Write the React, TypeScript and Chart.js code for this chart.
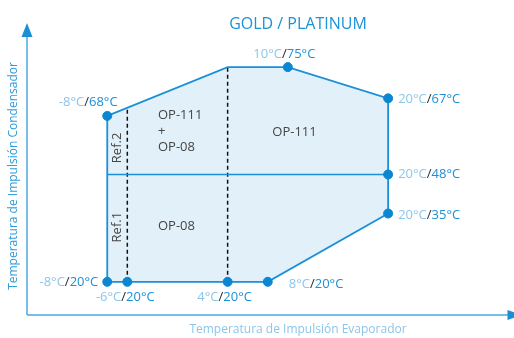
import React, { useEffect, useRef } from "react";
import { Chart, registerables } from "chart.js";

Chart.register(...registerables);

// Operating points: evaporator supply temperature (°C) and condenser supply temperature (°C)
const evapTemps = [-8, -6, 4, 8, 20, 20, 20, 10, -8];
const condTemps = [20, 20, 20, 20, 35, 48, 67, 75, 68];
// vertical placement of each point as read from the (schematic) diagram
const condLevels = [20, 20, 20, 20, 37.5, 47.5, 67, 75, 62.5];

// Envelope outline (closed)
const envelopeX = [-8, 8, 20, 20, 10, 4, -8, -8];
const envelopeY = [20, 20, 37.5, 67, 75, 75, 62.5, 20];

// Divider between OP-08 and OP-111 zones
const dividerX = [-8, 20];
const dividerY = [47.5, 47.5];

// Ref.1 / Ref.2 dashed lines
const refLineX = [-6, 4];
const refLineTop = [64.6, 75];
const refLineBottom = [20, 20];

const titleText = "GOLD / PLATINUM";
const xTitle = "Temperatura de Impulsión Evaporador";
const yTitle = "Temperatura de Impulsión Condensador";

const FONT = "'Open Sans', 'Noto Sans', sans-serif";
const BLUE = "#1a90d6";
const LIGHT = "#8cc5ea";
const DARK = "#2a2a2a";
const AXIS = "#4ea9e0";

export default function App() {
  const ref = useRef<HTMLCanvasElement | null>(null);

  useEffect(() => {
    if (!ref.current) return;

    const fillPlugin = {
      id: "envFill",
      beforeDatasetsDraw(chart: any) {
        const { ctx, scales } = chart;
        const xs = scales.x;
        const ys = scales.y;
        ctx.save();
        ctx.beginPath();
        envelopeX.forEach((v, i) => {
          const px = xs.getPixelForValue(v);
          const py = ys.getPixelForValue(envelopeY[i]);
          if (i === 0) ctx.moveTo(px, py);
          else ctx.lineTo(px, py);
        });
        ctx.closePath();
        ctx.fillStyle = "#e2f0fa";
        ctx.fill();
        ctx.restore();
      },
    };

    const labelPlacement = [
      { dx: -9, dy: 0, align: "right" },
      { dx: -2, dy: 15, align: "center" },
      { dx: -3, dy: 15, align: "center" },
      { dx: 21, dy: 2, align: "left" },
      { dx: 10, dy: 2, align: "left" },
      { dx: 10, dy: 0, align: "left" },
      { dx: 10, dy: 1, align: "left" },
      { dx: -3.5, dy: -13, align: "center" },
      { dx: -19, dy: -14, align: "center" },
    ];

    const textPlugin = {
      id: "texts",
      afterDatasetsDraw(chart: any) {
        const { ctx, scales, chartArea } = chart;
        const xs = scales.x;
        const ys = scales.y;
        ctx.save();
        // axes
        ctx.strokeStyle = AXIS;
        ctx.fillStyle = AXIS;
        ctx.lineWidth = 1.5;
        const L = chartArea.left;
        const B = chartArea.bottom;
        const T = chartArea.top;
        const R = chartArea.right;
        ctx.beginPath();
        ctx.moveTo(L, B);
        ctx.lineTo(L, T + 12);
        ctx.moveTo(L, B);
        ctx.lineTo(R, B);
        ctx.stroke();
        ctx.fillStyle = "#1a8fd6";
        ctx.beginPath();
        ctx.moveTo(L, T);
        ctx.lineTo(L - 5.5, T + 14);
        ctx.lineTo(L + 5.5, T + 14);
        ctx.closePath();
        ctx.fill();
        ctx.beginPath();
        ctx.moveTo(R - 1, B - 5);
        ctx.lineTo(R + 13, B);
        ctx.lineTo(R - 1, B + 5);
        ctx.closePath();
        ctx.fill();

        // point labels
        ctx.font = `13px ${FONT}`;
        ctx.textBaseline = "middle";
        ctx.textAlign = "left";
        evapTemps.forEach((ev, i) => {
          const px = xs.getPixelForValue(ev);
          const py = ys.getPixelForValue(condLevels[i]);
          const parts = [
            { t: `${ev}°C`, c: LIGHT },
            { t: "/", c: DARK },
            { t: `${condTemps[i]}°C`, c: BLUE },
          ];
          const w = parts.reduce((s, p) => s + ctx.measureText(p.t).width, 0);
          const pl = labelPlacement[i];
          let x = px + pl.dx;
          if (pl.align === "right") x -= w;
          else if (pl.align === "center") x -= w / 2;
          const y = py + pl.dy;
          parts.forEach((p) => {
            ctx.fillStyle = p.c;
            ctx.fillText(p.t, x, y);
            x += ctx.measureText(p.t).width;
          });
        });

        // zone texts
        ctx.fillStyle = "#454545";
        ctx.font = `13px ${FONT}`;
        ctx.textAlign = "left";
        const lx = xs.getPixelForValue(-2.94);
        ctx.fillText("OP-111", lx, ys.getPixelForValue(62.7));
        ctx.fillText("+", lx, ys.getPixelForValue(58.6));
        ctx.fillText("OP-08", lx, ys.getPixelForValue(54.5));
        ctx.fillText("OP-08", lx, ys.getPixelForValue(34.3));
        ctx.textAlign = "center";
        ctx.fillText("OP-111", xs.getPixelForValue(10.67), ys.getPixelForValue(58.4));

        const rotated = (t: string, x: number, y: number) => {
          ctx.save();
          ctx.translate(x, y);
          ctx.rotate(-Math.PI / 2);
          ctx.textAlign = "center";
          ctx.textBaseline = "middle";
          ctx.fillText(t, 0, 0);
          ctx.restore();
        };
        rotated("Ref.2", xs.getPixelForValue(-7.04), ys.getPixelForValue(54.3));
        rotated("Ref.1", xs.getPixelForValue(-7.04), ys.getPixelForValue(34.0));

        // titles
        ctx.textAlign = "center";
        ctx.textBaseline = "middle";
        ctx.fillStyle = "#1a93d8";
        ctx.font = `16px ${FONT}`;
        ctx.fillText(titleText, 298, 24);
        ctx.fillStyle = LIGHT;
        ctx.font = `12px ${FONT}`;
        ctx.fillText(xTitle, 298, 330);
        ctx.fillStyle = "#2f9bd9";
        ctx.save();
        ctx.translate(14, 176);
        ctx.rotate(-Math.PI / 2);
        ctx.fillText(yTitle, 0, 0);
        ctx.restore();

        ctx.restore();
      },
    };

    const pts = (xs: number[], ys: number[]) => xs.map((x, i) => ({ x, y: ys[i] }));

    const chart = new Chart(ref.current, {
      type: "scatter",
      data: {
        datasets: [
          {
            label: "points",
            data: pts(evapTemps, condLevels),
            showLine: false,
            pointRadius: 4.5,
            pointBackgroundColor: "#0b86d0",
            pointBorderColor: "#0b86d0",
            pointBorderWidth: 1,
            order: 0,
          },
          {
            label: "envelope",
            data: pts(envelopeX, envelopeY),
            showLine: true,
            borderColor: BLUE,
            borderWidth: 1.8,
            pointRadius: 0,
            fill: false,
            order: 1,
          },
          {
            label: "divider",
            data: pts(dividerX, dividerY),
            showLine: true,
            borderColor: BLUE,
            borderWidth: 1.5,
            pointRadius: 0,
            order: 2,
          },
          ...refLineX.map((rx, i) => ({
            label: `ref${i + 1}`,
            data: [
              { x: rx, y: refLineBottom[i] },
              { x: rx, y: refLineTop[i] },
            ],
            showLine: true,
            borderColor: "#111111",
            borderWidth: 1.5,
            borderDash: [4, 3],
            pointRadius: 0,
            order: 3,
          })),
        ],
      },
      options: {
        animation: false,
        responsive: true,
        maintainAspectRatio: false,
        layout: { padding: { left: 27, right: 2, top: 23, bottom: 23 } },
        plugins: {
          legend: { display: false },
          tooltip: { enabled: false },
          title: { display: false },
        },
        scales: {
          x: { type: "linear", min: -16, max: 32, display: false },
          y: { type: "linear", min: 11.5, max: 86.3, display: false },
        },
      },
      plugins: [fillPlugin, textPlugin],
    });
    return () => chart.destroy();
  }, []);

  return (
    <div style={{ position: "fixed", left: 0, top: 0, width: 514, height: 338, background: "#fff" }}>
      <canvas ref={ref} />
    </div>
  );
}
